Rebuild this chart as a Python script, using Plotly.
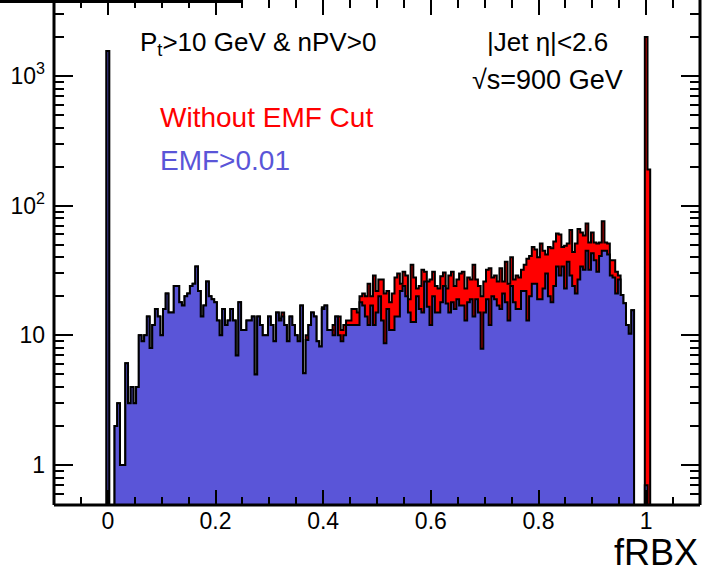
import plotly.graph_objects as go

# ---------------- data ----------------
bin_width = 0.005
first_bin_center = 0.0

# EMF>0.01 (blue), bins centred at 0.000, 0.005, ... 1.005
emf_counts = [
    1560, 0, 0, 2.0, 3.0, 1.0, 1.0, 6.1, 3.0, 4.0,
    3.0, 4.0, 10, 9, 10, 14, 8, 12, 16, 14,
    10, 16, 21, 15, 15, 24, 24, 18, 17, 20,
    21, 24, 25, 34, 22, 14, 17, 26, 20, 19,
    18, 13, 10, 16, 12, 13, 16, 13, 7, 18,
    11, 11, 13, 13, 14, 5, 14, 12, 10, 10,
    14, 12, 9, 15, 13, 14, 12, 9, 14, 12,
    10, 9, 17, 5.1, 9.2, 12, 15, 14, 9, 8.2,
    16, 17, 11, 11, 10, 14, 10, 9, 10, 12,
    12, 12, 12, 12, 18, 17, 14, 12, 17, 12,
    15, 20, 13, 8.7, 16, 11, 11, 14, 14, 22,
    24, 20, 15, 12.7, 12.7, 20, 16, 15, 26, 16.6,
    12, 20, 15, 15, 18, 24, 17.6, 15, 18, 16,
    19, 17, 17, 13, 18, 19, 14, 19, 15, 7.9,
    15, 19, 12, 20, 19, 17, 16, 21, 18, 13,
    24, 18, 16, 16, 22, 22, 13, 20, 25, 25,
    19, 19, 23, 30, 20, 18, 24, 34, 29, 34,
    23, 37, 29, 24, 21, 27, 34, 32, 45, 32,
    43, 38, 31, 41, 45, 45, 42, 29, 28, 21,
    27, 20.5, 17.7, 12, 10.3, 15.6, 0, 0, 0, 0,
    0.7, 0,
]

# Without EMF cut (red)
noemf_counts = [
    1560, 0, 0, 2.0, 3.0, 1.0, 1.0, 6.1, 3.0, 4.0,
    3.0, 4.0, 10, 9, 10, 14, 8, 12, 16, 14,
    10, 16, 21, 15, 15, 24, 24, 18, 17, 20,
    21, 24, 25, 34, 22, 14, 17, 26, 20, 19,
    18, 13, 10, 16, 12, 13, 16, 13, 7, 18,
    11, 11, 13, 13, 14, 5, 14, 12, 10, 10,
    14, 12, 9, 15, 13.5, 15, 12, 9, 14, 12,
    10, 9, 17, 5.1, 10, 12, 15, 14, 9, 8.2,
    16.5, 17, 11, 11, 12, 14, 14, 11, 12, 13,
    13, 16, 16, 15, 20, 21, 20, 25, 20, 29,
    22, 27, 27, 21, 22, 18, 21, 28, 30, 25,
    31, 29, 19, 35, 28, 23, 24, 32, 31, 26,
    27, 31, 24, 23, 28.6, 30.5, 23, 29, 31, 24,
    27, 30, 31, 23, 28, 27, 35, 27, 24, 20,
    26, 32, 33, 28, 29, 26, 33, 26, 37, 25,
    40, 27, 29, 28, 32, 35, 39, 41, 48, 46,
    40, 51, 45, 42, 48, 47, 53, 61, 60, 48,
    49, 51, 65, 44, 51, 66, 62, 59, 73, 52,
    62, 52, 51, 52, 76, 52, 51, 38, 38, 31,
    29, 20.5, 17.7, 12, 10.3, 15.6, 0, 0, 0, 0,
    2000, 190,
]

x_tick_vals = [0, 0.2, 0.4, 0.6, 0.8, 1.0]
x_tick_text = ["0", "0.2", "0.4", "0.6", "0.8", "1"]
y_tick_vals = [1, 10, 100, 1000]
y_tick_text = ["1", "10", "10<sup>2</sup>", "10<sup>3</sup>"]

FONT = "Liberation Sans, Arial, Helvetica, sans-serif"
BLUE = "#5a55d8"
RED = "#ff0000"


def step_polygon(counts):
    floor = 1e-3
    lo = first_bin_center - bin_width / 2
    xs, ys = [lo], [floor]
    for i, c in enumerate(counts):
        left = lo + i * bin_width
        right = left + bin_width
        v = c if c > 0 else floor
        xs += [left, right]
        ys += [v, v]
    xs.append(lo + len(counts) * bin_width)
    ys.append(floor)
    return xs, ys


fig = go.Figure()
for counts, col in [(noemf_counts, RED), (emf_counts, BLUE)]:
    xs, ys = step_polygon(counts)
    fig.add_trace(go.Scatter(x=xs, y=ys, mode="lines", fill="toself",
                             fillcolor=col, line=dict(color="black", width=2),
                             hoverinfo="skip", showlegend=False))

minor_y = []
for dec in [0.1, 1, 10, 100, 1000]:
    for m in range(2, 10):
        minor_y.append(m * dec)

fig.update_xaxes(range=[-0.1, 1.1], tickvals=x_tick_vals, ticktext=x_tick_text,
                 ticks="inside", ticklen=15, tickwidth=1.5, tickcolor="black",
                 mirror="ticks", showline=False, showgrid=False, zeroline=False,
                 automargin=False,
                 tickfont=dict(family=FONT, size=23, color="black"),
                 minor=dict(tick0=0, dtick=0.05, ticks="inside", ticklen=8,
                            tickwidth=1.5, tickcolor="black", showgrid=False))
fig.update_yaxes(type="log", range=[-0.308, 3.586], tickvals=y_tick_vals,
                 ticktext=y_tick_text, ticks="inside", ticklen=19, tickwidth=1.5,
                 tickcolor="black", mirror="ticks", showline=False, showgrid=False,
                 zeroline=False, ticklabelstandoff=8, automargin=False,
                 tickfont=dict(family=FONT, size=23, color="black"),
                 minor=dict(tickvals=minor_y, ticks="inside", ticklen=10,
                            tickwidth=1.5, tickcolor="black", showgrid=False))

shapes = [
    dict(type="line", xref="paper", yref="paper", x0=0, x1=0, y0=0, y1=1,
         line=dict(color="black", width=3)),
    dict(type="line", xref="paper", yref="paper", x0=1, x1=1, y0=0, y1=1,
         line=dict(color="black", width=3)),
    dict(type="line", xref="paper", yref="paper", x0=0, x1=1, y0=0, y1=0,
         line=dict(color="black", width=3)),
    dict(type="line", xref="paper", yref="paper", x0=-0.09, x1=0.2926,
         y0=0.997, y1=0.997, line=dict(color="black", width=3)),
]

ann = [
    dict(text="P<sub>t</sub>&gt;10 GeV &amp; nPV&gt;0", x=0.130, y=0.913,
         font=dict(size=26, color="black")),
    dict(text="|Jet η|&lt;2.6", x=0.667, y=0.917, font=dict(size=26, color="black")),
    dict(text="√s=900 GeV", x=0.644, y=0.842, font=dict(size=27, color="black")),
    dict(text="Without EMF Cut", x=0.161, y=0.768, font=dict(size=28, color=RED)),
    dict(text="EMF&gt;0.01", x=0.161, y=0.683, font=dict(size=28, color=BLUE)),
]
annotations = []
for a in ann:
    a["font"]["family"] = FONT
    annotations.append(dict(xref="paper", yref="paper", xanchor="left",
                            yanchor="middle", showarrow=False, **a))
annotations.append(dict(text="fRBX", xref="paper", yref="paper", x=1.0, y=-0.095,
                        xanchor="right", yanchor="middle", showarrow=False,
                        font=dict(family=FONT, size=36, color="black")))

fig.update_layout(width=702, height=574, margin=dict(l=54, r=2, t=0, b=69),
                  paper_bgcolor="white", plot_bgcolor="white",
                  shapes=shapes, annotations=annotations)

fig.write_html("out.html", config={"displayModeBar": False},
               post_script="document.body.style.margin='0';document.body.style.padding='0';")
